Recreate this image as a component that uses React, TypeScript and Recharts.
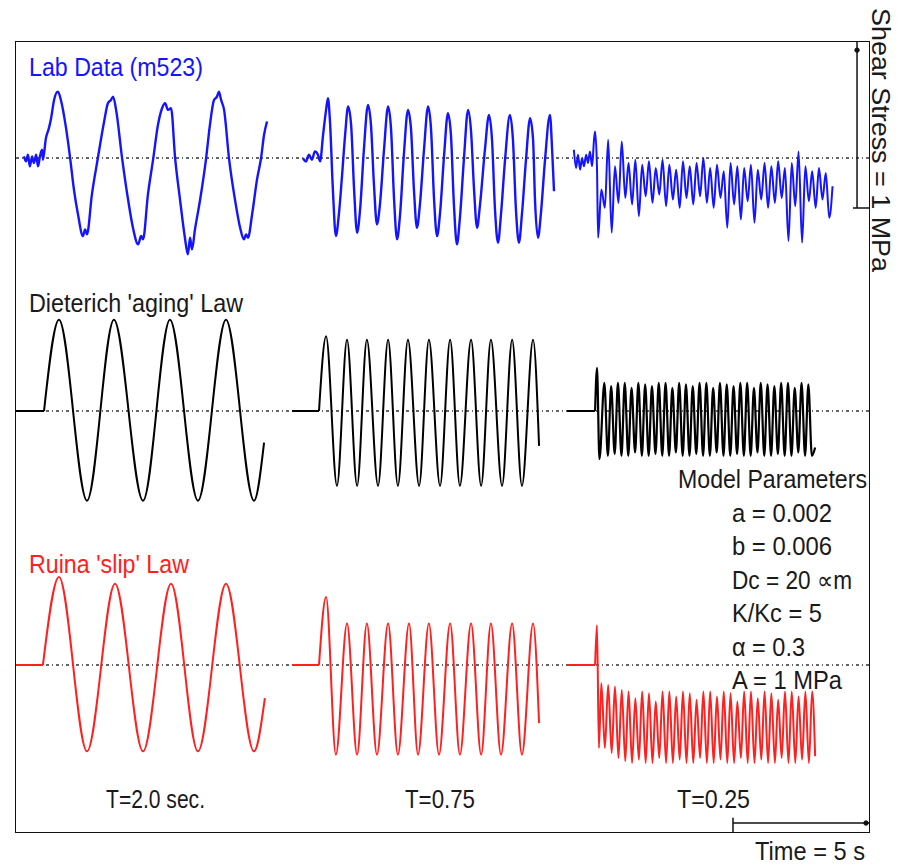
import React from 'react';
import { LineChart, Line, XAxis, YAxis, ReferenceLine, ReferenceDot } from 'recharts';

type P = [number, number | null][];

// ---------- text ----------
const rowTitles = ['Lab Data (m523)', "Dieterich 'aging' Law", "Ruina 'slip' Law"];
const periodLabels = ['T=2.0 sec.', 'T=0.75', 'T=0.25'];
const modelParams = ['Model Parameters', 'a = 0.002', 'b = 0.006', 'Dc = 20 \u221Dm', 'K/Kc = 5', '\u03B1 = 0.3', 'A = 1 MPa'];
const stressScaleLabel = 'Shear Stress = 1 MPa';
const timeScaleLabel = 'Time = 5 s';

// ---------- data: time (s), shear stress change (MPa) ----------
const labT20: P = [[0.29,0.01],[0.37,-0.02],[0.44,0.02],[0.51,-0.05],[0.59,0.01],[0.66,-0.03],[0.74,0.02],[0.81,-0.05],[0.88,0.01],[0.96,0.05],[0.99,-0.01],[1.10,0.12],[1.21,0.18],[1.29,0.24],[1.40,0.35],[1.54,0.40],[1.65,0.35],[1.84,0.18],[1.99,0.00],[2.13,-0.19],[2.28,-0.34],[2.46,-0.47],[2.54,-0.43],[2.61,-0.46],[2.79,-0.22],[3.01,0],[3.24,0.22],[3.38,0.33],[3.49,0.35],[3.57,0.37],[3.68,0.29],[3.90,0],[4.12,-0.25],[4.30,-0.42],[4.49,-0.52],[4.60,-0.47],[4.67,-0.49],[4.85,-0.22],[5.04,-0.01],[5.22,0.20],[5.37,0.30],[5.48,0.33],[5.59,0.29],[5.70,0.30],[5.85,0],[6.03,-0.25],[6.21,-0.48],[6.32,-0.58],[6.40,-0.48],[6.47,-0.55],[6.58,-0.43],[6.77,-0.25],[6.99,0],[7.13,0.20],[7.28,0.35],[7.39,0.37],[7.46,0.40],[7.54,0.35],[7.65,0.29],[7.83,0],[8.05,-0.25],[8.24,-0.42],[8.38,-0.49],[8.46,-0.46],[8.53,-0.48],[8.68,-0.34],[8.86,-0.13],[9.01,0],[9.12,0.14],[9.23,0.22]];

const labT075: P = [[10.55,0],[10.66,-0.02],[10.77,0.02],[10.88,-0.01],[10.99,0.04],[11.10,0.02],[11.18,-0.02],[11.29,0.14],[11.40,0.29],[11.47,0.36],[11.54,0.23],[11.65,-0.19],[11.76,-0.47],[11.87,-0.34],[11.99,-0.10],[12.10,0.14],[12.21,0.31],[12.32,0.20],[12.43,-0.19],[12.54,-0.45],[12.65,-0.31],[12.79,0.05],[12.94,0.32],[13.05,0.20],[13.16,-0.16],[13.27,-0.40],[13.38,-0.28],[13.53,0.05],[13.68,0.31],[13.79,0.17],[13.90,-0.25],[14.01,-0.49],[14.12,-0.34],[14.26,0.02],[14.41,0.29],[14.52,0.18],[14.63,-0.19],[14.74,-0.42],[14.85,-0.28],[15.00,0.05],[15.15,0.31],[15.26,0.17],[15.37,-0.25],[15.48,-0.47],[15.59,-0.33],[15.74,0.02],[15.88,0.27],[15.99,0.14],[16.10,-0.28],[16.21,-0.52],[16.32,-0.36],[16.47,0],[16.62,0.29],[16.73,0.16],[16.84,-0.19],[16.95,-0.42],[17.06,-0.28],[17.24,0.05],[17.39,0.26],[17.50,0.11],[17.61,-0.31],[17.72,-0.51],[17.83,-0.34],[17.98,-0.01],[18.16,0.26],[18.27,0.11],[18.38,-0.31],[18.49,-0.51],[18.60,-0.34],[18.75,-0.01],[18.90,0.24],[19.01,0.11],[19.08,-0.25],[19.19,-0.48],[19.30,-0.33],[19.45,-0.01],[19.63,0.26],[19.71,0.05],[19.78,-0.20]];

const labT025: P = [[20.51,0.05],[20.59,-0.06],[20.66,0.02],[20.74,-0.07],[20.81,0],[20.88,-0.05],[20.96,0.02],[21.03,-0.03],[21.10,0.04],[21.18,-0.05],[21.25,0.11],[21.29,0.16],[21.36,-0.06],[21.40,-0.48],
[21.52,-0.19],[21.65,-0.30],[21.77,0.11],[21.90,-0.45],[22.02,-0.05],[22.15,-0.27],[22.27,0.10],[22.40,-0.24],[22.52,-0.03],[22.65,-0.28],[22.77,-0.01],[22.90,-0.35],[23.02,-0.04],[23.15,-0.23],[23.27,-0.02],[23.40,-0.27],[23.52,-0.06],[23.65,-0.22],[23.77,-0.01],[23.90,-0.29],[24.02,-0.04],[24.15,-0.25],[24.27,-0.07],[24.40,-0.30],[24.52,-0.02],[24.65,-0.24],[24.77,-0.05],[24.90,-0.28],[25.02,-0.03],[25.15,-0.23],[25.27,0.00],[25.40,-0.27],[25.52,-0.06],[25.65,-0.30],[25.77,-0.04],[25.90,-0.24],[26.02,-0.08],[26.15,-0.42],[26.27,-0.03],[26.40,-0.28],[26.52,-0.05],[26.65,-0.37],[26.77,-0.06],[26.90,-0.26],[27.02,-0.04],[27.15,-0.39],[27.27,-0.07],[27.40,-0.25],[27.52,-0.03],[27.65,-0.30],[27.77,-0.05],[27.90,-0.27],[28.02,-0.02],[28.15,-0.24],[28.27,-0.06],[28.40,-0.50],[28.52,-0.03],[28.65,-0.29],[28.77,0.04],[28.90,-0.51],[29.02,-0.05],[29.15,-0.26],[29.27,-0.08],[29.40,-0.30],[29.52,-0.06],[29.65,-0.25],[29.77,-0.09],[29.90,-0.36],[30.02,-0.17]];

const agingLead: P = [[0,0],[1.03,0],[1.04,null],[10.15,0],[11.14,0],[11.15,null],[20.26,0],[21.29,0]];
const agingT20: P = [[1.03,0],[1.58,0.55],[2.61,-0.54],[3.60,0.55],[4.67,-0.54],[5.66,0.55],[6.69,-0.54],[7.72,0.55],[8.75,-0.54],[9.12,-0.19]];
const agingT075: P = [[11.14,0],[11.40,0.45],[11.80,-0.45],[12.17,0.43],[12.54,-0.45],[12.90,0.43],[13.31,-0.45],[13.68,0.43],[14.04,-0.45],[14.41,0.43],[14.82,-0.45],[15.18,0.43],[15.59,-0.45],[15.96,0.43],[16.32,-0.45],[16.73,0.43],[17.10,-0.45],[17.46,0.43],[17.87,-0.45],[18.24,0.43],[18.60,-0.45],[19.01,0.43],[19.23,-0.21]];
const agingT025: P = [[21.29,0],[21.36,0.26],[21.45,-0.29],
[21.63,0.17],[21.76,-0.27],[21.88,0.15],[22.01,-0.26],[22.13,0.17],[22.26,-0.27],[22.38,0.17],[22.51,-0.27],[22.63,0.14],[22.76,-0.25],[22.88,0.17],[23.01,-0.27],[23.13,0.16],[23.26,-0.27],[23.38,0.15],[23.51,-0.26],[23.63,0.17],[23.76,-0.27],[23.88,0.17],[24.01,-0.27],[24.13,0.14],[24.26,-0.25],[24.38,0.17],[24.51,-0.27],[24.63,0.16],[24.76,-0.27],[24.88,0.15],[25.01,-0.26],[25.13,0.17],[25.26,-0.27],[25.38,0.17],[25.51,-0.27],[25.63,0.14],[25.76,-0.25],[25.88,0.17],[26.01,-0.27],[26.13,0.16],[26.26,-0.27],[26.38,0.15],[26.51,-0.26],[26.63,0.17],[26.76,-0.27],[26.88,0.17],[27.01,-0.27],[27.13,0.14],[27.26,-0.25],[27.38,0.17],[27.51,-0.27],[27.63,0.16],[27.76,-0.27],[27.88,0.15],[28.01,-0.26],[28.13,0.17],[28.26,-0.27],[28.38,0.17],[28.51,-0.27],[28.63,0.14],[28.76,-0.25],[28.88,0.17],[29.01,-0.27],[29.13,0.16],[29.26,-0.27],[29.38,-0.22]];

const ruinaLead: P = [[0,0],[0.99,0],[1.0,null],[10.15,0],[11.14,0],[11.15,null],[20.26,0],[21.29,0]];
const ruinaT20: P = [[0.99,0],[1.58,0.53],[2.61,-0.52],[3.64,0.49],[4.67,-0.52],[5.70,0.49],[6.69,-0.52],[7.72,0.49],[8.75,-0.52],[9.15,-0.20]];
const ruinaT075: P = [[11.14,0],[11.40,0.41],[11.76,-0.54],[12.17,0.25],[12.54,-0.54],[12.90,0.25],[13.27,-0.54],[13.68,0.25],[14.04,-0.54],[14.45,0.25],[14.78,-0.54],[15.18,0.25],[15.55,-0.54],[15.96,0.25],[16.32,-0.54],[16.73,0.25],[17.10,-0.54],[17.46,0.25],[17.83,-0.54],[18.24,0.25],[18.60,-0.54],[19.01,0.25],[19.23,-0.35]];
const ruinaT025: P = [[21.29,0],[21.36,0.24],[21.43,-0.50],
[21.52,-0.11],[21.65,-0.50],[21.77,-0.12],[21.90,-0.53],[22.02,-0.13],[22.15,-0.56],[22.27,-0.15],[22.40,-0.58],[22.52,-0.16],[22.65,-0.59],[22.77,-0.20],[22.90,-0.57],[23.02,-0.16],[23.15,-0.59],[23.27,-0.17],[23.40,-0.59],[23.52,-0.22],[23.65,-0.56],[23.77,-0.16],[23.90,-0.59],[24.02,-0.16],[24.15,-0.59],[24.27,-0.19],[24.40,-0.57],[24.52,-0.16],[24.65,-0.59],[24.77,-0.17],[24.90,-0.59],[25.02,-0.21],[25.15,-0.56],[25.27,-0.16],[25.40,-0.59],[25.52,-0.16],[25.65,-0.59],[25.77,-0.19],[25.90,-0.57],[26.02,-0.16],[26.15,-0.59],[26.27,-0.17],[26.40,-0.59],[26.52,-0.22],[26.65,-0.56],[26.77,-0.16],[26.90,-0.59],[27.02,-0.16],[27.15,-0.59],[27.27,-0.20],[27.40,-0.57],[27.52,-0.16],[27.65,-0.59],[27.77,-0.17],[27.90,-0.59],[28.02,-0.21],[28.15,-0.56],[28.27,-0.16],[28.40,-0.59],[28.52,-0.16],[28.65,-0.59],[28.77,-0.19],[28.90,-0.57],[29.02,-0.16],[29.15,-0.59],[29.27,-0.16],[29.38,-0.55]];

// scale bars: 1 MPa stress bar and 5 s time bar
const stressBar = { t: 30.92, from: -0.301, to: 0.699 };
const timeBar = { from: 26.36, to: 31.36, v: -0.952 };

// ---------- layout ----------
const TIME_DOMAIN: [number, number] = [0, 31.36];
const CW = 853;
const CH = 790;
const BLUE = '#1414ff';
const RED = '#ff2020';
const BLACK = '#000000';
const TEXT = '#1a1a1a';
const FONT = "'Liberation Sans', Arial, Helvetica, sans-serif";

const toPts = (a: P) => a.map(([t, v]) => ({ t, v }));

function Row({ domain, children }: { domain: [number, number]; children: React.ReactNode }) {
  return (
    <div style={{ position: 'absolute', left: 16, top: 42, width: CW, height: CH }}>
      <LineChart width={CW} height={CH} margin={{ top: 0, right: 0, bottom: 0, left: 0 }}>
        <XAxis type="number" dataKey="t" domain={TIME_DOMAIN} hide allowDataOverflow />
        <YAxis type="number" domain={domain} hide allowDataOverflow />
        <ReferenceLine y={0} stroke="#333" strokeWidth={1.4} strokeDasharray="3 3 1 3" />
        {children}
      </LineChart>
    </div>
  );
}

const wave = (data: P, color: string, key: string, width = 2) => (
  <Line
    key={key}
    data={toPts(data)}
    dataKey="v"
    type="monotone"
    stroke={color}
    strokeWidth={width}
    dot={false}
    activeDot={false}
    isAnimationActive={false}
  />
);

const lead = (data: P, color: string, key: string) => (
  <Line
    key={key}
    data={toPts(data)}
    dataKey="v"
    type="linear"
    stroke={color}
    strokeWidth={2}
    dot={false}
    activeDot={false}
    connectNulls={false}
    isAnimationActive={false}
  />
);

function Txt({ x, y, len, fill = TEXT, children, size = 25 }: { x: number; y: number; len: number; fill?: string; children: React.ReactNode; size?: number }) {
  return (
    <text x={x} y={y} fontSize={size} fill={fill} fontFamily={FONT} textLength={len} lengthAdjust="spacingAndGlyphs">
      {children}
    </text>
  );
}

export default function App() {
  return (
    <div style={{ position: 'absolute', left: 0, top: 0, width: 898, height: 865, background: '#fff', overflow: 'hidden' }}>
      <div style={{ position: 'absolute', left: 15, top: 41, width: 855, height: 792, border: '1.5px solid #111', boxSizing: 'border-box' }} />

      <Row domain={[-4.06, 0.699]}>
        {wave(labT20, BLUE, 'l1', 2.4)}
        {wave(labT075, BLUE, 'l2', 2.4)}
        {wave(labT025, BLUE, 'l3', 2)}
        <ReferenceLine segment={[{ x: stressBar.t, y: stressBar.from }, { x: stressBar.t, y: stressBar.to }]} stroke="#111" strokeWidth={1.5} ifOverflow="visible" />
        <ReferenceLine segment={[{ x: 30.77, y: stressBar.from }, { x: 31.36, y: stressBar.from }]} stroke="#111" strokeWidth={1.5} ifOverflow="visible" />
        <ReferenceDot x={stressBar.t} y={0.65} r={2.2} fill="#111" stroke="#111" ifOverflow="visible" />
      </Row>

      <Row domain={[-2.536, 2.223]}>
        {lead(agingLead, BLACK, 'a0')}
        {wave(agingT20, BLACK, 'a1')}
        {wave(agingT075, BLACK, 'a2')}
        {wave(agingT025, BLACK, 'a3', 2.2)}
      </Row>

      <Row domain={[-1.006, 3.753]}>
        {lead(ruinaLead, RED, 'r0')}
        {wave(ruinaT20, RED, 'r1')}
        {wave(ruinaT075, RED, 'r2')}
        {wave(ruinaT025, RED, 'r3', 2)}
        <ReferenceLine segment={[{ x: timeBar.from, y: timeBar.v }, { x: timeBar.to, y: timeBar.v }]} stroke="#111" strokeWidth={1.5} ifOverflow="visible" />
        <ReferenceLine segment={[{ x: timeBar.from, y: -0.92 }, { x: timeBar.from, y: -1.006 }]} stroke="#111" strokeWidth={1.5} ifOverflow="visible" />
        <ReferenceDot x={31.25} y={timeBar.v} r={2.2} fill="#111" stroke="#111" ifOverflow="visible" />
      </Row>

      <svg width={898} height={865} style={{ position: 'absolute', left: 0, top: 0, pointerEvents: 'none' }}>
        <Txt x={29} y={76} len={174} fill={BLUE}>{rowTitles[0]}</Txt>
        <Txt x={29} y={312} len={214} fill={TEXT}>{rowTitles[1]}</Txt>
        <Txt x={29} y={573} len={160} fill={RED}>{rowTitles[2]}</Txt>

        <Txt x={106} y={808} len={99}>{periodLabels[0]}</Txt>
        <Txt x={405} y={808} len={70}>{periodLabels[1]}</Txt>
        <Txt x={677} y={808} len={73}>{periodLabels[2]}</Txt>

        <Txt x={678} y={488} len={189}>{modelParams[0]}</Txt>
        <Txt x={732} y={522} len={100}>{modelParams[1]}</Txt>
        <Txt x={732} y={555} len={100}>{modelParams[2]}</Txt>
        <Txt x={732} y={589} len={120}>{modelParams[3]}</Txt>
        <Txt x={732} y={622} len={90}>{modelParams[4]}</Txt>
        <Txt x={732} y={656} len={73}>{modelParams[5]}</Txt>
        <Txt x={732} y={689} len={110}>{modelParams[6]}</Txt>

        <Txt x={755} y={860} len={110}>{timeScaleLabel}</Txt>
        <text transform="translate(872,8) rotate(90)" x={0} y={0} fontSize={25} fill={TEXT} fontFamily={FONT} textLength={264} lengthAdjust="spacingAndGlyphs">
          {stressScaleLabel}
        </text>
      </svg>
    </div>
  );
}
